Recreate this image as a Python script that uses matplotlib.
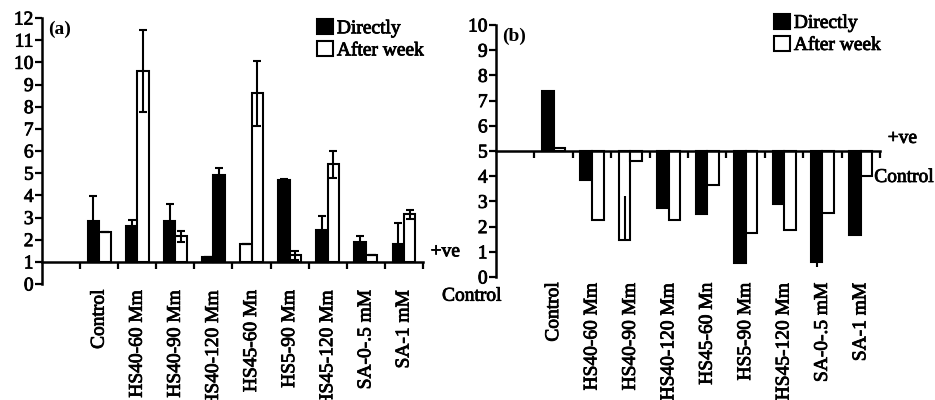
import matplotlib
matplotlib.use("Agg")
import matplotlib.pyplot as plt
import matplotlib.patheffects as pe
from matplotlib.patches import Patch
import numpy as np

plt.rcParams['font.family'] = ['Liberation Serif', 'DejaVu Serif']

categories = ['Control', 'HS40-60 Mm', 'HS40-90 Mm', 'HS40-120 Mm', 'HS45-60 Mn',
              'HS5-90 Mm', 'HS45-120 Mm', 'SA-0-.5 mM', 'SA-1 mM']

# panel (a), baseline 1
a_direct = [2.85, 2.6, 2.85, 1.2, 1.8, 4.7, 2.45, 1.9, 1.8]
a_direct_err = [1.1, 0.3, 0.75, 0.0, 0.0, 0.05, 0.6, 0.25, 0.95]
a_week = [2.35, 9.6, 2.15, 4.9, 8.6, 1.3, 5.4, 1.3, 3.15]
a_week_err = [0.0, 1.85, 0.25, 0.35, 1.45, 0.2, 0.6, 0.0, 0.2]
a_direct_fill = ['k', 'k', 'k', 'k', 'w', 'k', 'k', 'k', 'k']
a_week_fill = ['w', 'w', 'w', 'k', 'w', 'w', 'w', 'w', 'w']

# panel (b), baseline 5
b_direct = [7.4, 3.85, 1.45, 2.75, 2.5, 0.55, 2.9, 0.6, 1.65]
b_direct_err_lo = [0, 0, 0, 0, 0, 0, 0, 0.2, 0]
b_direct_err_hi = [0, 0, 1.75, 0, 0, 0, 0, 0, 0]
b_week = [5.1, 2.25, 4.6, 2.25, 3.65, 1.75, 1.85, 2.55, 4.0]
b_direct_fill = ['k', 'k', 'w', 'k', 'k', 'k', 'k', 'k', 'k']
b_week_fill = ['w'] * 9

fig = plt.figure(figsize=(9.35, 4.0), dpi=100)
ax1 = fig.add_axes([0.0449, 0.29, 0.4075, 0.665])
ax2 = fig.add_axes([0.5305, 0.3075, 0.4107, 0.63])

x = np.arange(len(categories)) + 1.5
w = 0.3
fs = 14
# heavier strokes, like the scanned figure
heavy = [pe.withStroke(linewidth=0.6, foreground='black')]


def err_pair(vals, errs, base):
    vals = np.array(vals)
    errs = np.array(errs)
    # lower whisker stops at the baseline
    return [np.minimum(errs, vals - base), errs]


def setup(ax, base, top, tag, ve_y, ctl_y, ctl_x, leg_anchor):
    ax.set_xlim(0, 10)
    ax.set_ylim(0, top)
    ax.spines['top'].set_visible(False)
    ax.spines['right'].set_visible(False)
    ax.spines['bottom'].set_position(('data', base))
    for s in ('left', 'bottom'):
        ax.spines[s].set_linewidth(1.8)
    ax.set_yticks(range(0, top + 1))
    ax.set_xticks(range(1, 11))
    ax.set_xticklabels([])
    ax.tick_params(axis='both', direction='out', length=5, width=1.6, labelsize=fs, pad=1)
    for t in ax.get_yticklabels():
        t.set_path_effects(heavy)
    for xi, lab in zip(x, categories):
        ax.text(xi, -0.02, lab, rotation=90, ha='center', va='top', fontsize=fs,
                transform=ax.get_xaxis_transform(), path_effects=heavy)
    ax.text(0.015, 0.99, tag, transform=ax.transAxes, fontsize=fs, fontweight='bold',
            ha='left', va='top')
    ax.text(1.02, ve_y, '+ve', transform=ax.get_yaxis_transform(), fontsize=fs,
            ha='left', va='center', clip_on=False, path_effects=heavy)
    ax.text(ctl_x, ctl_y, 'Control', transform=ax.get_yaxis_transform(), fontsize=fs,
            ha='left', va='center', clip_on=False, path_effects=heavy)
    handles = [Patch(facecolor='k', edgecolor='k', linewidth=1.5),
               Patch(facecolor='w', edgecolor='k', linewidth=1.5)]
    leg = ax.legend(handles, ['Directly', 'After week'], loc='upper left',
                    bbox_to_anchor=leg_anchor, frameon=False, fontsize=fs, handlelength=0.8,
                    handleheight=0.8, handletextpad=0.2, labelspacing=0.2, borderpad=0,
                    borderaxespad=0)
    for t in leg.get_texts():
        t.set_path_effects(heavy)


# panel (a)
ax1.bar(x - w / 2, np.array(a_direct) - 1, w, bottom=1, color=a_direct_fill, edgecolor='k',
        linewidth=1.5, zorder=2)
ax1.bar(x + w / 2, np.array(a_week) - 1, w, bottom=1, color=a_week_fill, edgecolor='k',
        linewidth=1.5, zorder=2)
ax1.errorbar(x - w / 2, a_direct, yerr=err_pair(a_direct, a_direct_err, 1), fmt='none',
             ecolor='k', elinewidth=1.5, capsize=3, capthick=1.5, zorder=3)
ax1.errorbar(x + w / 2, a_week, yerr=err_pair(a_week, a_week_err, 1), fmt='none',
             ecolor='k', elinewidth=1.5, capsize=3, capthick=1.5, zorder=3)
setup(ax1, 1, 12, '(a)', 1.45, -0.55, 1.05, (0.723, 0.996))

# panel (b)
ax2.bar(x - w / 2, np.array(b_direct) - 5, w, bottom=5, color=b_direct_fill, edgecolor='k',
        linewidth=1.5, zorder=2)
ax2.bar(x + w / 2, np.array(b_week) - 5, w, bottom=5, color=b_week_fill, edgecolor='k',
        linewidth=1.5, zorder=2)
ax2.errorbar(x - w / 2, b_direct, yerr=[b_direct_err_lo, b_direct_err_hi], fmt='none',
             ecolor='k', elinewidth=1.5, capsize=0, zorder=3)
setup(ax2, 5, 10, '(b)', 5.5, 3.95, 0.985, (0.725, 1.045))

fig.savefig('out.png', dpi=100)
